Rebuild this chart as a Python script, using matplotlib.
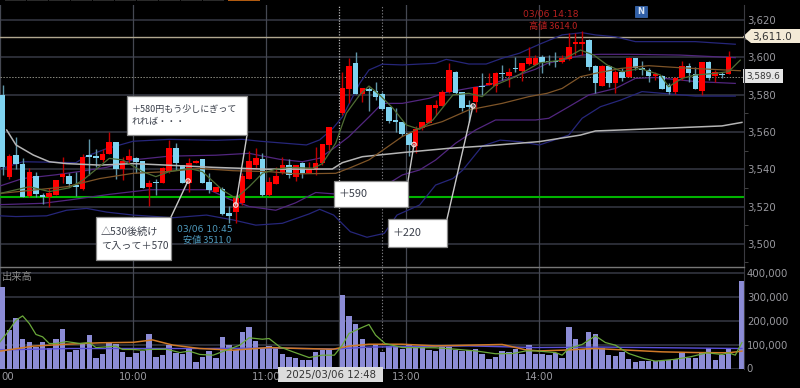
import numpy as np
import matplotlib
matplotlib.use("Agg")
import matplotlib.pyplot as plt
from matplotlib.patches import Rectangle, Polygon, Circle
from matplotlib.ticker import FuncFormatter, MultipleLocator

plt.rcParams['font.family'] = ['DejaVu Sans', 'Noto Sans CJK JP']

nan = float('nan')
opens = [3580,3536,3547.5,3543,3525.8,3536.5,3526,3525.3,3526,3536,3536.3,3531.3,3529.2,3547.6,3547,3544.9,3548.1,3554.4,3539.9,3545,
         3546.2,3544.4,3530.3,3532.8,3532.8,3538.7,3551.2,3542.2,3532.8,3543.1,3545.3,3533.3,3528,3529.2,3516.3,3517.2,3522,3535,3542,3545.3,
         3526.2,3532,3537.8,3542.3,3535.7,3543.5,3538.2,3539.6,3543.2,3553,nan,3570,3582.9,3597.1,3580.2,3583.2,3582.1,3580.3,3573.2,3566.4,
         3565.2,3559.3,3552.6,3562,3565,3573,3574.1,3581.2,3592.1,3581.2,3574.3,3575.9,3584.6,3585.2,3584.6,3591.4,3590,3594.1,3592.7,3596.4,
         3596,3600.3,3597.6,3597.6,3597.6,3598.9,3606.9,3606.9,3609.3,3595.3,3584.8,3595.3,3586,3592.3,3589.6,3599.4,3594.4,3593.2,3590,3590,
         3585.1,3581.6,3589,3595.3,3591,3581.9,3597.3,3589.8,3591,3591]
highs = [3585,3548,3557.4,3545.8,3540.5,3538.5,3527,3529.8,3534.2,3546.7,3538,3538.7,3548.2,3556.2,3551,3551,3559.8,3554.4,3546.7,3551,
         3546.7,3544.6,3534.2,3535,3541.3,3555.6,3553.9,3542.2,3545.8,3545,3545.3,3537.8,3530.6,3530.3,3520.3,3526.2,3537.8,3550,3551.2,3548.5,
         3535.7,3541.4,3546.4,3545.3,3542.3,3544,3544,3552,3553.5,3562.5,nan,3592.3,3599.5,3603,3583.4,3584.3,3587,3581.6,3573.2,3572.7,
         3565.5,3559.3,3563.2,3565.2,3574.5,3577.1,3582.5,3597.2,3592.9,3581.6,3577.1,3584.3,3591.4,3591.4,3592.3,3595.9,3594.1,3600,3597.2,3605.4,
         3601.2,3601.2,3601.2,3603,3601.2,3612.8,3612.8,3614,3609.6,3595.9,3595.9,3595.9,3593.2,3594,3600,3599.4,3598,3594,3592.3,3590.5,
         3586,3589.6,3598,3597.1,3595,3597.6,3598,3593.2,3592.3,3603.4]
lows = [3537,3535,3540,3525,3525,3525.3,3521.3,3520,3526,3532.4,3530.6,3525.6,3528.8,3536.9,3541.3,3544,3548.1,3535,3534.2,3543,
        3538,3529.7,3520.3,3526.2,3532.4,3537.8,3539.6,3532.4,3528,3543.1,3532.4,3527,3528,3515.4,3511,3511,3520.8,3535,3540,3525.6,
        3525.6,3532,3537.4,3535.2,3533.9,3535.1,3537.8,3536.9,3542.3,3550.3,nan,3569.1,3575.3,3580.3,3576.2,3571.2,3577,3571.8,3564.6,3560.2,
        3557.8,3547.3,3548.5,3561,3564.6,3569.1,3574.1,3580.7,3580.3,3571.2,3565.5,3570.9,3579.8,3585.2,3581.6,3587.9,3584.3,3592.3,3587.3,3595.9,
        3595.9,3591.4,3595.9,3595,3597.1,3598.5,3601.2,3601.2,3593.2,3581,3584.8,3583.9,3580.7,3587.3,3589.2,3593.2,3590.5,3586.9,3587.8,3582.8,
        3580.1,3580.1,3587.8,3586.9,3582.8,3579.8,3587.8,3586.9,3589,3591]
closes = [3541,3547.3,3543,3525.3,3538.3,3526.7,3525.3,3527.4,3534,3537.4,3532,3530.3,3546.3,3546.7,3546.2,3548.1,3554.4,3539.9,3544.6,3547,
          3544,3529.7,3532.4,3532.4,3540.4,3551.2,3543.1,3532.8,3543.1,3544.6,3532.8,3528.8,3530.3,3516,3514.9,3524.4,3536.3,3544.6,3546.2,3526.2,
          3533.3,3536.4,3542.3,3536.9,3542.3,3538.2,3540.5,3543.5,3553.5,3562.5,nan,3583.4,3595.4,3580.3,3583.4,3582.1,3578.9,3572.3,3566,3565.2,
          3558.9,3553,3561.4,3565.2,3574.5,3574.5,3581.2,3593.2,3580.7,3573,3573.6,3584.3,3584.3,3586.4,3591.4,3591,3592.3,3593.8,3597.2,3599.5,
          3599.4,3597.1,3597.3,3597.3,3599.4,3605.3,3608.4,3608.4,3595,3586,3595.3,3586,3592.3,3589,3599.4,3594,3593,3590,3591,3583,
          3581.2,3589,3595.3,3591.7,3583,3597.3,3588.7,3591.9,3590.3,3600]
candle_idx = list(range(len(opens)))

volume_k = [342,161,214,123,112,91,112,87,123,164,70,77,102,140,46,60,109,102,70,49,67,73,144,50,56,98,66,63,84,27,48,74,45,132,98,77,155,175,115,87,94,
            87,63,50,46,36,36,70,77,81,nan,308,222,185,123,87,101,69,94,94,81,98,94,94,77,73,92,92,76,73,77,84,60,42,49,73,71,84,62,98,60,
            60,56,67,46,176,125,84,154,143,88,56,53,71,38,27,32,32,31,32,35,41,67,46,46,70,88,35,56,88,nan,368]
vol_idx = list(range(len(volume_k)))

upper2_i = [-0.4,3,11,12.6,15.6,19.6,25,32,36,38.6,45.6,47.6,49.6,51,53.6,55,57,60,65,66.6,70,72.6,75,77.6,80.6,84,87,89,92,95,99,104,110]
upper2_p = [3540,3544,3543.5,3547,3551,3555,3556,3555.5,3556,3555,3553,3555.7,3562,3568,3586,3593.2,3596.3,3595.9,3596.8,3598.9,3596.4,3596.4,3599.5,3602.2,3607,3612,3613.2,3612,3611,3608.4,3608.4,3608.4,3607]
upper1_i = [-0.4,3,8,12,15.6,19.6,25,32,37,41.6,45,47.6,50,52,55,57,60,64,66.6,70,73,76,80,81.75,84,87,89.75,94,101.7,110]
upper1_p = [3531,3535,3537,3539,3541,3545,3547,3547.5,3548.5,3545.3,3544,3545.9,3552,3557.5,3568,3575.3,3575.3,3578,3581.2,3583.4,3585.2,3588.7,3593.6,3596.7,3598.5,3601.2,3601.6,3601.6,3601.2,3599.8]
lower1_i = [-0.4,6,10,16,22,31,34,37,41,44,47,50,52,55,58.6,60,62.6,65,68,71,74,80,82,85,88,92,95,98,104,110]
lower1_p = [3521,3521.7,3523.5,3526.5,3529,3529,3524,3520,3518,3522,3527.5,3526.7,3524,3527,3533.8,3536.9,3539.6,3544.9,3553.9,3561,3566.4,3566.4,3567.3,3573.5,3579.8,3583.3,3588.7,3589.2,3587,3586]
lower2_i = [-0.4,2,6.6,9.6,12.6,15.6,19.6,25.6,30.6,34.6,38,42,46,47.6,49.7,52.2,54.7,57.3,59.2,62.6,65,67.6,69.1,72,74.7,77.7,80.6,85,87,89.75,92.75,96,104,110]
lower2_p = [3515,3514.6,3515,3518,3519,3517,3515.4,3514,3515.4,3512.8,3510,3511,3516,3518.5,3515.4,3506.5,3503.5,3505.6,3515.4,3520.8,3531.5,3535,3539.6,3552.4,3555.6,3554.7,3553,3558.3,3567.3,3573.5,3577,3581.6,3579.2,3579.2]
short_i = [-0.4,4,7,10,12,14.5,16,18,21,23,25,28,30,33,35,37,39,41,43,46.6,48,50,51.6,53.6,55,56.6,58.6,60.6,62.6,64.6,66,67.6,70,72,74,77,80.6,84,86.75,88.75,90.75,93,95.75,98.75,100,102,104,107,109,110.75]
short_p = [3527,3530.6,3528,3530,3534,3541.3,3545.8,3545,3538.7,3536,3538.7,3540.4,3538.7,3528.8,3524.4,3530.6,3537.8,3540,3541,3540.5,3543,3553.9,3570,3579.8,3584.6,3579.8,3572.7,3563.7,3561.4,3566.4,3572.7,3579.8,3580.7,3578.9,3585.2,3589.6,3597,3598.5,3603.9,3601.2,3595.9,3592.3,3594,3590.5,3584.2,3588.7,3590.5,3591.4,3592.3,3598.5]
mid_i = [-0.4,4.6,9.6,14.6,19.6,24.6,29.6,34.6,40,44,50,52,55,60,62.6,66,70,75,79,81.75,84,86.75,89,92.75,97,101.75,106.75,110.75]
mid_p = [3527,3528.8,3530.6,3535,3537.8,3538.7,3540.4,3539.2,3538.7,3537.5,3537.8,3540.5,3545,3557.5,3562,3565.5,3571.8,3575.3,3578.9,3580.7,3583.3,3589.6,3591.4,3594,3595.5,3594.4,3593.5,3592.8]
long_i = [0.6,2,4.6,7,9.6,14.6,19.6,24.6,31.6,39.6,49.5,51,54,60,67,72.6,80.6,86.75,89,99,108,111]
long_p = [3561,3553,3547.6,3544,3543,3542.2,3543,3542.2,3541,3540,3540.1,3543.5,3546.7,3548.9,3551.2,3552.5,3554.8,3558.3,3560.5,3561.9,3563.2,3565.1]

vgreen_i = [-0.4,0.6,2,3,4,5,6,7,8,9.6,11.6,13,14,15.6,17,18,19.6,21,22,24.6,26.6,28,29.6,31.6,33.6,35.6,37,39,40,41.6,43.6,46,48,49.8,51,52,53.6,55,56,57.4,60,65,68,71,74,76.6,78.6,80,83,84,85,87,89,90.5,92,94,96.25,98,100.75,103.25,105.75,108,109,110,111]
vgreen_k = [112,147,203,221,189,143,133,105,105,113,105,109,88,91,94,80,80,77,80,81,67,73,59,56,77,98,129,123,126,91,70,46,56,56,98,147,168,185,140,105,88,87,81,74,62,63,74,74,67,56,84,101,137,109,98,63,42,31,38,49,66,59,66,56,109]
vorange_i = [-0.4,4.6,9.6,14.6,19.6,22.5,25.6,29.6,34.6,40,45,49.6,52,55,60,65,70,75,78.6,80.6,84,89,94,99,104,109,111]
vorange_k = [73,94,102,108,110,120,98,84,77,88,84,81,94,102,102,95,98,101,78,74,77,84,77,70,67,66,73]
vpurple_i = [-0.4,10,20,30,40,50,55,70,80,90,100,111]
vpurple_k = [78,84,84,84,86,82,90,95,88,90,87,84]

price_ticks = [3500,3520,3540,3560,3580,3600,3620]
volume_ticks = [0,100,200,300,400]
time_labels = ['00','10:00','11:00','13:00','14:00']
time_idx = [-0.4,19.6,39.6,60.6,80.6]
session_idx = 50.55
cross_idx = 56.9
line_high = 3611.0
line_last = 3589.6
line_green = 3525.3

W, H = 800, 388
X0, X1 = 0, 744
SP = 6.66
OFF = 2.67
fig = plt.figure(figsize=(W/100, H/100), dpi=100, facecolor='black')

def make_ax(top, bottom):
    return fig.add_axes([X0/W, 1-bottom/H, (X1-X0)/W, (bottom-top)/H], facecolor='black')

ax = make_ax(5, 266)
vx = make_ax(266, 368.5)
xl = ((X0-OFF)/SP, (X1-OFF)/SP)

GRID = '#363944'
VG = '#454852'
TXT = '#9a9aa0'

for a in (ax, vx):
    a.set_xlim(*xl)
    for s in a.spines.values():
        s.set_visible(False)
    a.set_xticks([])
    for t in time_idx:
        a.axvline(t, color=VG, lw=0.9, zorder=1)
    a.axvline(cross_idx, color='#77777c', lw=0.8, ls=(0, (1.2, 1.6)), zorder=1)
ax.axvline(session_idx, color='#b8b8b8', lw=0.9, ls=(0, (1, 1.2)), zorder=1)
vx.axvline(session_idx, color=VG, lw=0.9, zorder=1)

ax.set_ylim(3620-(266-20)/1.865, 3620+(20-5)/1.865)
ax.set_yticks(price_ticks)
ax.yaxis.set_major_formatter(FuncFormatter(lambda v, _: f'{v:,.0f}'))
ax.yaxis.set_minor_locator(MultipleLocator(10))
vx.set_ylim(0, (368.5-266)/23.8*100)
vx.set_yticks(volume_ticks)
vx.yaxis.set_major_formatter(FuncFormatter(lambda v, _: f'{v*1000:,.0f}'))
for a in (ax, vx):
    a.yaxis.tick_right()
    a.tick_params(axis='y', which='major', length=0, pad=2, labelsize=7.3, labelcolor=TXT)
    a.tick_params(axis='y', which='minor', length=3, width=0.7, color='#444', labelright=False, labelleft=False)
    a.grid(axis='y', which='major', color=GRID, lw=1.1, zorder=1)
    a.set_axisbelow(True)

ax.axhline(line_high, color='#b0a78f', lw=1.0, zorder=2)
ax.axhline(line_last, color='#8a8a80', lw=0.7, ls=(0, (1.5, 1.5)), zorder=2)
ax.axhline(line_green, color='#00b400', lw=1.5, zorder=2)

BLUE_BAND = '#26267a'
PURPLE = '#52267f'
ax.plot(upper2_i, upper2_p, color=BLUE_BAND, lw=0.9, zorder=3)
ax.plot(lower2_i, lower2_p, color=BLUE_BAND, lw=0.9, zorder=3)
ax.plot(upper1_i, upper1_p, color=PURPLE, lw=0.9, zorder=3)
ax.plot(lower1_i, lower1_p, color=PURPLE, lw=0.9, zorder=3)

idx = np.array(candle_idx, float)
o, h, l, c = map(np.array, (opens, highs, lows, closes))
up = c >= o
dn = c < o
ax.vlines(idx[up], l[up], h[up], color='#c00000', lw=1.0, zorder=4)
ax.vlines(idx[dn], l[dn], h[dn], color='#5f95a8', lw=1.0, zorder=4)
ax.bar(idx[up], np.maximum(c[up]-o[up], 0.5), bottom=o[up], width=0.84, color='#ff0000', lw=0, zorder=5)
ax.bar(idx[dn], np.maximum(o[dn]-c[dn], 0.5), bottom=c[dn], width=0.84, color='#7fd3f0', lw=0, zorder=5)

ax.plot(long_i, long_p, color='#b5b5b5', lw=1.1, zorder=6)
ax.plot(mid_i, mid_p, color='#7f5528', lw=0.9, zorder=6)
ax.plot(short_i, short_p, color='#4f6d34', lw=0.9, zorder=6)

vx.bar(vol_idx, volume_k, width=0.82, color='#8c8cd6', lw=0, zorder=3)
vx.plot(vpurple_i, vpurple_k, color='#5a50d8', lw=1.0, zorder=4)
vx.plot(vorange_i, vorange_k, color='#d07a28', lw=1.1, zorder=5)
vx.plot(vgreen_i, vgreen_k, color='#6aa83a', lw=0.9, zorder=6)

ov = fig.add_axes([0, 0, 1, 1], facecolor='none', zorder=20)
ov.set_xlim(0, W)
ov.set_ylim(H, 0)
ov.axis('off')

for a_x, b_x, col in [(5,26,'#2a2a2a'),(27,48,'#2a2a2a'),(49,70,'#2a2a2a'),(71,92,'#2a2a2a'),(93,114,'#2a2a2a'),(115,136,'#2a2a2a'),
                      (137,158,'#2a2a2a'),(159,180,'#2a2a2a'),(181,202,'#2a2a2a'),(203,224,'#2a2a2a'),(228,260,'#b05a10')]:
    ov.add_patch(Rectangle((a_x, 0), b_x-a_x, 1.3, fc=col, lw=0))

ov.plot([X1, X1], [5, 368.5], color='#3a3a40', lw=0.8)
ov.plot([0, X1], [266.7, 266.7], color='#777', lw=1.0)

for lab, t in zip(time_labels, time_idx):
    px = OFF + SP*t
    if lab == '00':
        px = 8
    ov.text(px, 377.5, lab, color=TXT, fontsize=7.3, ha='center', va='center')

ov.add_patch(Rectangle((278, 367), 105, 15, fc='#dcdcdc', ec='none'))
ov.text(330.5, 375, '2025/03/06 12:48', color='#333', fontsize=7.3, ha='center', va='center')
ov.text(2, 277, '出来高', color='#8a8a8a', fontsize=7.4, ha='left', va='center', family='Noto Sans CJK JP')

ov.text(551, 14, '03/06 14:18', color='#b82020', fontsize=6.6, ha='center', va='center')
ov.text(553, 26, '高値 3614.0', color='#b82020', fontsize=6.6, ha='center', va='center', family=['Noto Sans CJK JP','DejaVu Sans'])
ov.text(205, 228.5, '03/06 10:45', color='#4f9cc0', fontsize=6.6, ha='center', va='center')
ov.text(207, 240, '安値 3511.0', color='#4f9cc0', fontsize=6.6, ha='center', va='center', family=['Noto Sans CJK JP','DejaVu Sans'])

ov.add_patch(Rectangle((635, 6), 12, 11, fc='#2f5fa8', ec='#4070b8', lw=0.5))
ov.text(641, 12, 'N', color='#d8e4f4', fontsize=6, ha='center', va='center', fontweight='bold')

ov.add_patch(Polygon([(743,36.5),(751,29),(800,29),(800,43),(751,43)], closed=True, fc='#f3ead6', ec='none'))
ov.text(752, 37, '3,611.0', color='#333', fontsize=7.5, ha='left', va='center')
ov.add_patch(Rectangle((743, 69), 40, 14, fc='#e6e6e6', ec='none'))
ov.text(763, 76.5, '3,589.6', color='#333', fontsize=6.4, ha='center', va='center')

callouts = [
    ((127,96,247,135), '＋580円もう少しにぎって\nれれば・・・', (247,135), (235.7,205), 6.5),
    ((96,217,171,260), '△530後続け\nて入って＋570', (171,217), (188,181), 7.3),
    ((334,181,408,207), '＋590', (408,181), (414,144.5), 7.8),
    ((388,219,447,247), '＋220', (447,219), (473,106), 7.8),
]
for (x0,y0,x1,y1), txt, a_pt, b_pt, fs in callouts:
    ov.plot([a_pt[0], b_pt[0]], [a_pt[1], b_pt[1]], color='#c8c8c8', lw=1.0, zorder=2)
    ov.add_patch(Circle(b_pt, 2.2, fc='none', ec='#f0d8d8', lw=0.9, zorder=3))
    ov.add_patch(Rectangle((x0,y0), x1-x0, y1-y0, fc='white', ec='#8a8a8a', lw=0.9, zorder=4))
    ov.text(x0+5, (y0+y1)/2, txt, color='#3a3f4a', fontsize=fs, ha='left', va='center', linespacing=1.35, zorder=5,
            family=['Noto Sans CJK JP','DejaVu Sans'])

fig.savefig('out.png', dpi=100, facecolor='black')
